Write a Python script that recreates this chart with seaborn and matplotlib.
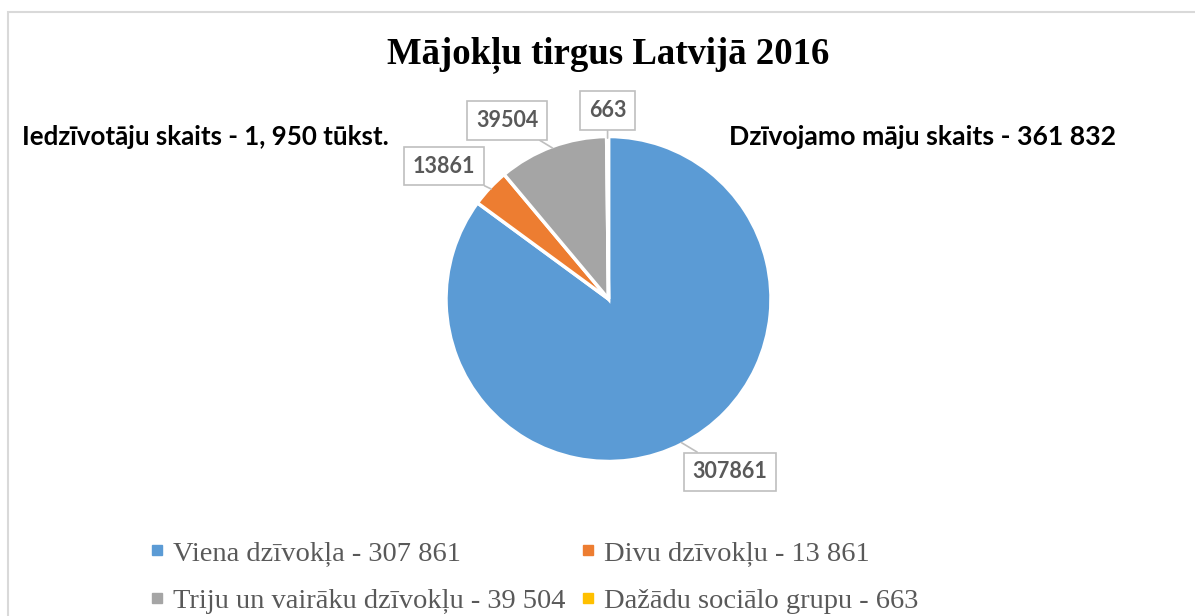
import numpy as np
import matplotlib
matplotlib.use("Agg")
import matplotlib.pyplot as plt
import seaborn as sns
from matplotlib.lines import Line2D
from matplotlib.patches import Rectangle

# data
categories = ["Viena dzīvokļa - 307 861", "Divu dzīvokļu - 13 861",
              "Triju un vairāku dzīvokļu - 39 504", "Dažādu sociālo grupu - 663"]
values = [307861, 13861, 39504, 663]
colors = ["#5B9BD5", "#ED7D31", "#A5A5A5", "#FFC000"]
title = "Mājokļu tirgus Latvijā 2016"
left_note = "Iedzīvotāju skaits - 1, 950 tūkst."
right_note = "Dzīvojamo māju skaits - 361 832"

# where each value box sits, relative to the slice middle (data units)
label_offsets = [(0.30, -0.18), (-0.29, 0.14), (-0.28, 0.17), (0.0, 0.17)]

sns.set_theme(style="white")
plt.rcParams['font.family'] = ['Liberation Serif', 'DejaVu Serif']

W, H = 1195, 616
fig = plt.figure(figsize=(W / 100, H / 100), dpi=100)

# light frame of the chart area
fig.patches.append(Rectangle((8 / W, -0.05), 1.1, 1 - 12 / H + 0.05,
                             transform=fig.transFigure, fill=False,
                             ec="#D9D9D9", lw=1.5))

r = 162.5
cx, cy = 608.5, 299
ax = fig.add_axes([(cx - r) / W, (H - cy - r) / H, 2 * r / W, 2 * r / H])
wedges, _ = ax.pie(values, colors=colors, startangle=90, counterclock=False,
                   wedgeprops=dict(edgecolor="white", linewidth=2.5))
ax.set_xlim(-1, 1)
ax.set_ylim(-1, 1)
ax.set_aspect("equal")
ax.axis("off")

for w, v, off in zip(wedges, values, label_offsets):
    mid = np.deg2rad((w.theta1 + w.theta2) / 2)
    tip = (np.cos(mid) * 0.99, np.sin(mid) * 0.99)
    ax.annotate(str(v), xy=tip, xytext=(tip[0] + off[0], tip[1] + off[1]),
                ha="center", va="center", fontsize=15.5, fontweight="bold",
                family=["Lato", "DejaVu Sans"], color="#595959",
                bbox=dict(boxstyle="square,pad=0.4", fc="white", ec="#BFBFBF", lw=1.2),
                arrowprops=dict(arrowstyle="-", color="#BFBFBF", lw=1.2,
                                shrinkA=0, shrinkB=0),
                annotation_clip=False)

fig.text(cx / W, 1 - 55 / H, title, ha="center", va="center",
         fontsize=26.5, fontweight="bold", color="black")
fig.text(22 / W, 1 - 137 / H, left_note, ha="left", va="center",
         fontsize=18.6, fontweight="bold", family=["Lato", "DejaVu Sans"], color="black")
fig.text(729 / W, 1 - 137 / H, right_note, ha="left", va="center",
         fontsize=19.2, fontweight="bold", family=["Lato", "DejaVu Sans"], color="black")

handles = [Line2D([], [], marker="s", ls="", color=c, markersize=7) for c in colors]
order = [0, 2, 1, 3]
fig.legend([handles[i] for i in order], [categories[i] for i in order],
           ncol=2, loc="center", bbox_to_anchor=(534 / W, 1 - 577 / H),
           frameon=False, fontsize=20.5, labelcolor="#595959",
           handlelength=0.5, handletextpad=0.3, columnspacing=0.55,
           labelspacing=0.78, borderpad=0)

fig.savefig("out.png", dpi=100)
